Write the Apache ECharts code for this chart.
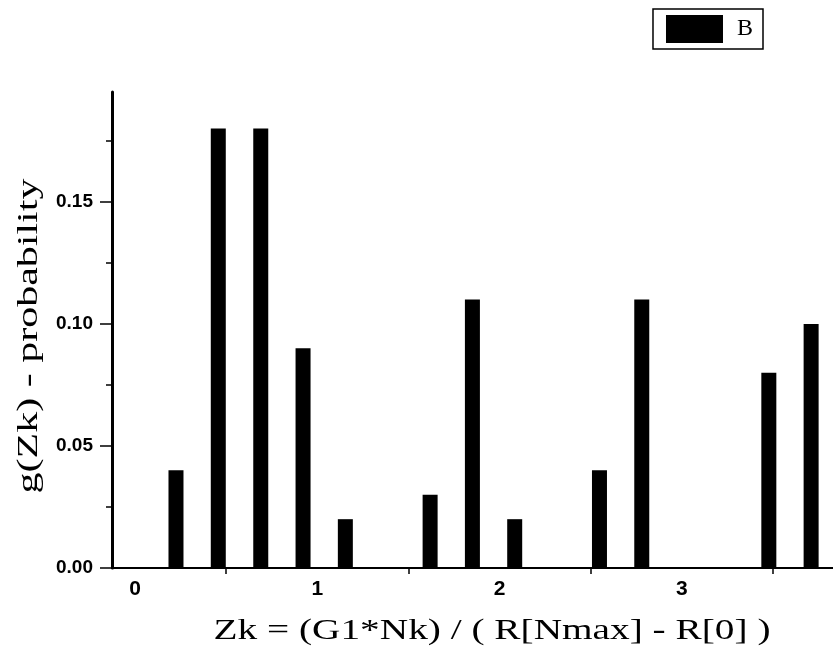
<!DOCTYPE html>
<html>
<head>
<meta charset="utf-8">
<script src="https://cdn.jsdelivr.net/npm/echarts@6/dist/echarts.min.js"></script>
<style>
  html, body { margin: 0; padding: 0; background: #fff; }
  #chart { width: 833px; height: 656px; }
</style>
</head>
<body>
<div id="chart"></div>
<script>
// Bin centres of Zk and their probabilities g(Zk)
const zkCenters = [0.225, 0.457, 0.690, 0.922, 1.154, 1.619, 1.851, 2.083, 2.548, 2.780, 3.477, 3.709];
const probabilities = [0.04, 0.18, 0.18, 0.09, 0.02, 0.03, 0.11, 0.02, 0.04, 0.11, 0.08, 0.10];

// Axis tick / label positions
const xLabelValues = [0, 1, 2, 3];
const xTickValues = [0.5, 1.5, 2.5, 3.5];
const yMajorValues = [0, 0.05, 0.10, 0.15];
const yMinorValues = [0.025, 0.075, 0.125, 0.175];

const seriesName = 'B';
const xTitle = 'Zk = (G1*Nk) / ( R[Nmax] - R[0] )';
const yTitle = 'g(Zk) - probability';

const barData = zkCenters.map((x, i) => [x, probabilities[i]]);

const chart = echarts.init(document.getElementById('chart'), null, { renderer: 'canvas' });

const yRange = { min: 0, max: 0.195 };
const titleFont = { fontFamily: 'Liberation Serif', fontSize: 30, fill: '#000' };

chart.setOption({
  animation: false,
  backgroundColor: '#ffffff',
  grid: { left: 112, right: 0, top: 92, bottom: 88, containLabel: false },
  legend: {
    right: 70,
    top: 9,
    orient: 'horizontal',
    itemWidth: 57,
    itemHeight: 28,
    itemGap: 0,
    padding: [6, 10, 6, 13],
    borderColor: '#000',
    borderWidth: 1.5,
    borderRadius: 0,
    icon: 'rect',
    textStyle: { fontFamily: 'Liberation Serif', fontSize: 24, color: '#000', padding: [0, 0, 0, 9] },
    data: [seriesName]
  },
  xAxis: {
    type: 'value',
    min: -0.126,
    max: 3.829,
    axisLine: { show: true, onZero: false, lineStyle: { color: '#000', width: 2 } },
    axisTick: { show: true, customValues: xTickValues, length: 6, lineStyle: { color: '#000', width: 1.5 } },
    axisLabel: {
      show: true,
      customValues: xLabelValues,
      margin: 11,
      fontFamily: 'Liberation Sans',
      fontWeight: 'bold',
      fontSize: 21,
      color: '#000'
    },
    splitLine: { show: false }
  },
  yAxis: [
    {
      type: 'value',
      min: yRange.min,
      max: yRange.max,
      axisLine: { show: true, onZero: false, lineStyle: { color: '#000', width: 3 } },
      axisTick: { show: true, customValues: yMajorValues, length: 12, lineStyle: { color: '#000', width: 1.5 } },
      axisLabel: {
        show: true,
        customValues: yMajorValues,
        formatter: v => v.toFixed(2),
        margin: 19,
        fontFamily: 'Liberation Sans',
        fontWeight: 'bold',
        fontSize: 19,
        color: '#000'
      },
      splitLine: { show: false }
    },
    {
      // minor ticks on the left axis
      type: 'value',
      position: 'left',
      min: yRange.min,
      max: yRange.max,
      axisLine: { show: false, onZero: false },
      axisTick: { show: true, customValues: yMinorValues, length: 6, lineStyle: { color: '#000', width: 1.5 } },
      axisLabel: { show: false },
      splitLine: { show: false }
    }
  ],
  graphic: [
    {
      // x-axis title, set in a wide serif face
      type: 'text',
      x: 492,
      y: 631,
      scaleX: 1.31,
      style: Object.assign({ text: xTitle, textAlign: 'center', textVerticalAlign: 'middle' }, titleFont)
    },
    {
      // y-axis title, rotated
      type: 'text',
      x: 29,
      y: 336,
      rotation: Math.PI / 2,
      scaleX: 1.4,
      style: Object.assign({ text: yTitle, textAlign: 'center', textVerticalAlign: 'middle' }, titleFont)
    }
  ],
  series: [
    {
      name: seriesName,
      type: 'bar',
      xAxisIndex: 0,
      yAxisIndex: 0,
      data: barData,
      barWidth: 15,
      itemStyle: { color: '#000' }
    }
  ]
});
</script>
</body>
</html>
